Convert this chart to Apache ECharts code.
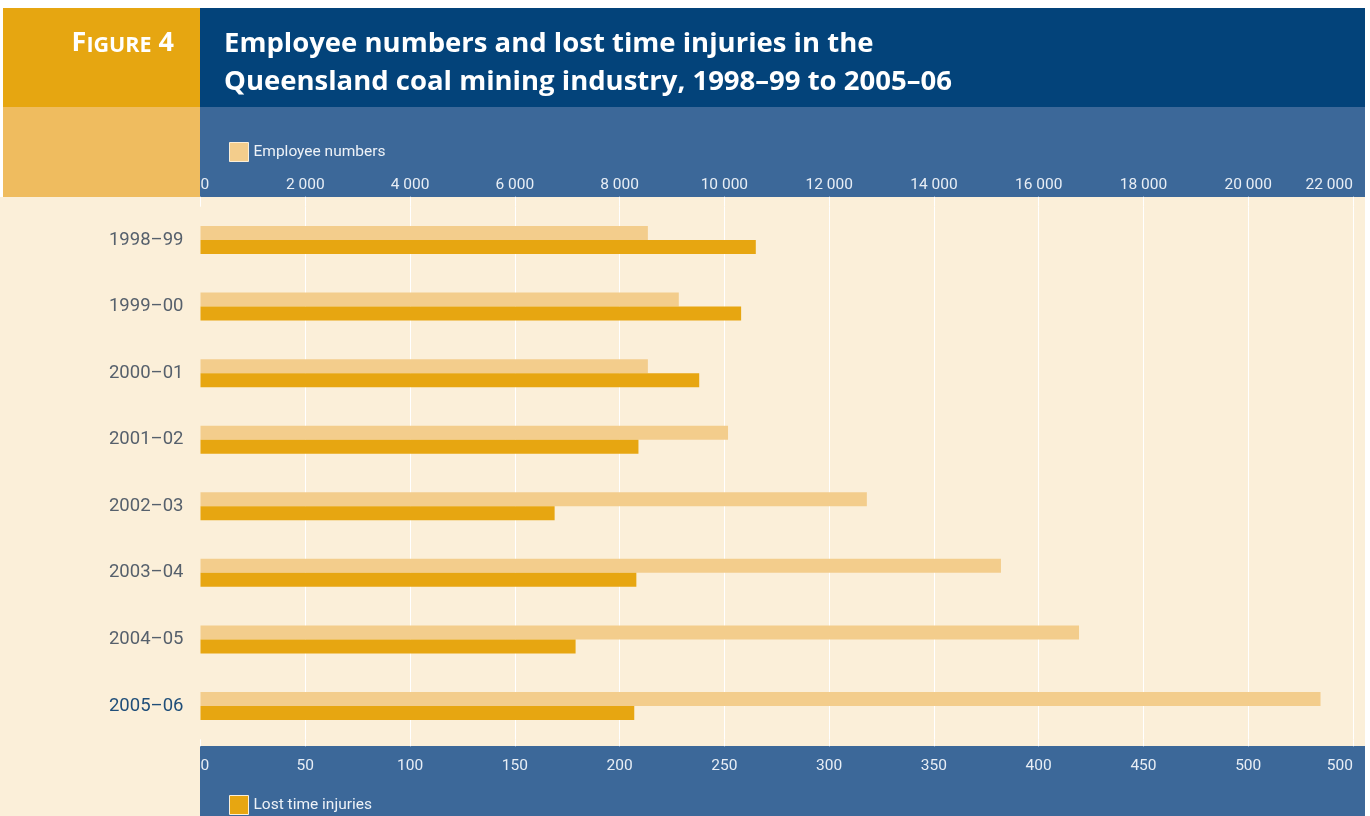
<!DOCTYPE html>
<html>
<head>
<meta charset="utf-8">
<script src="https://cdn.jsdelivr.net/npm/echarts@6/dist/echarts.min.js"></script>
<style>
html,body{margin:0;padding:0;background:#ffffff;}
#chart{width:1370px;height:816px;}
</style>
</head>
<body>
<div id="chart"></div>
<script>
var categories = ['1998–99','1999–00','2000–01','2001–02','2002–03','2003–04','2004–05','2005–06'];
var employeeNumbers = [8540, 9130, 8540, 10070, 12720, 15280, 16770, 21380];
var lostTimeInjuries = [265, 258, 238, 209, 169, 208, 179, 207];
var topTickLabels = ['0','2 000','4 000','6 000','8 000','10 000','12 000','14 000','16 000','18 000','20 000','22 000'];
var bottomTickLabels = ['0','50','100','150','200','250','300','350','400','450','500','500'];

var C_GOLD = '#E6A611', C_DARK = '#03437A', C_LGOLD = '#EFBC5F', C_MBLUE = '#3C6899',
    C_CREAM = '#FBEFD9', C_LBAR = '#F3CD8C', C_DBAR = '#E7A611';
var BAND_FONT = 'Roboto';

var chart = echarts.init(document.getElementById('chart'));
var yData = categories.map(function (c, i) {
  return i === categories.length - 1 ? { value: c, textStyle: { color: '#1F4E79' } } : c;
});

chart.setOption({
  animation: false,
  backgroundColor: '#ffffff',
  graphic: [
    { type: 'rect', z: -100, shape: { x: 0, y: 197, width: 1365, height: 619 }, style: { fill: C_CREAM } },
    { type: 'rect', z: -100, shape: { x: 3, y: 8, width: 197, height: 99 }, style: { fill: C_GOLD } },
    { type: 'rect', z: -100, shape: { x: 200, y: 8, width: 1165, height: 99 }, style: { fill: C_DARK } },
    { type: 'rect', z: -100, shape: { x: 3, y: 107, width: 197, height: 90 }, style: { fill: C_LGOLD } },
    { type: 'rect', z: -100, shape: { x: 200, y: 107, width: 1165, height: 90 }, style: { fill: C_MBLUE } },
    { type: 'rect', z: -100, shape: { x: 200, y: 746, width: 1165, height: 70 }, style: { fill: C_MBLUE } },
    { type: 'text', z: 10, x: 174, y: 43,
      style: { text: '{a|F}{b|IGURE}{a| 4}', align: 'right', verticalAlign: 'middle',
        rich: {
          a: { fontFamily: 'Open Sans', fontWeight: 'bold', fontSize: 27, fill: '#ffffff', verticalAlign: 'bottom' },
          b: { fontFamily: 'Open Sans', fontWeight: 'bold', fontSize: 21.5, fill: '#ffffff', verticalAlign: 'bottom' }
        } } }
  ],
  title: {
    text: 'Employee numbers and lost time injuries in the\nQueensland coal mining industry, 1998–99 to 2005–06',
    left: 219, top: 20,
    textStyle: { color: '#ffffff', fontFamily: 'Open Sans', fontWeight: 'bold', fontSize: 27.5, lineHeight: 38 }
  },
  legend: [
    { data: ['Employee numbers'], left: 224, top: 137, icon: 'rect', itemWidth: 19, itemHeight: 19, itemGap: 4,
      itemStyle: { borderColor: '#FBEFD9', borderWidth: 1 },
      textStyle: { color: '#EEF2F7', fontSize: 15.5, fontFamily: BAND_FONT, padding: [2,0,0,0] } },
    { data: ['Lost time injuries'], left: 224, top: 790, icon: 'rect', itemWidth: 19, itemHeight: 19, itemGap: 4,
      itemStyle: { borderColor: '#FBEFD9', borderWidth: 1 },
      textStyle: { color: '#EEF2F7', fontSize: 15.5, fontFamily: BAND_FONT, padding: [2,0,0,0] } }
  ],
  grid: { left: 200.5, right: 17, top: 206.7, bottom: 76.7, containLabel: false },
  xAxis: [
    { type: 'value', position: 'top', min: 0, max: 22000, interval: 2000,
      axisLine: { show: false },
      axisTick: { show: true, length: 10, lineStyle: { color: '#ffffff', width: 1 } },
      splitLine: { show: true, showMinLine: false, lineStyle: { color: '#ffffff', width: 1 } },
      axisLabel: { margin: 14, color: '#E8EEF5', fontSize: 15.5, fontFamily: BAND_FONT,
        alignMinLabel: 'left', alignMaxLabel: 'right',
        formatter: function (v) { return topTickLabels[Math.round(v / 2000)]; } } },
    { type: 'value', position: 'bottom', min: 0, max: 550, interval: 50,
      axisLine: { show: false },
      axisTick: { show: true, length: 7, lineStyle: { color: '#ffffff', width: 1 } },
      splitLine: { show: false },
      axisLabel: { margin: 19, color: '#E8EEF5', fontSize: 15.5, fontFamily: BAND_FONT,
        alignMinLabel: 'left', alignMaxLabel: 'right',
        formatter: function (v) { return bottomTickLabels[Math.round(v / 50)]; } } }
  ],
  yAxis: {
    type: 'category', inverse: true, data: yData,
    axisLine: { show: false }, axisTick: { show: false },
    axisLabel: { margin: 17, color: '#56606C', fontSize: 18.5, fontFamily: 'Roboto' }
  },
  series: [
    { name: 'Employee numbers', type: 'bar', xAxisIndex: 0, data: employeeNumbers,
      barWidth: 14, barGap: '0%', itemStyle: { color: C_LBAR } },
    { name: 'Lost time injuries', type: 'bar', xAxisIndex: 1, data: lostTimeInjuries,
      barWidth: 14, barGap: '0%', itemStyle: { color: C_DBAR } }
  ]
});
</script>
</body>
</html>
